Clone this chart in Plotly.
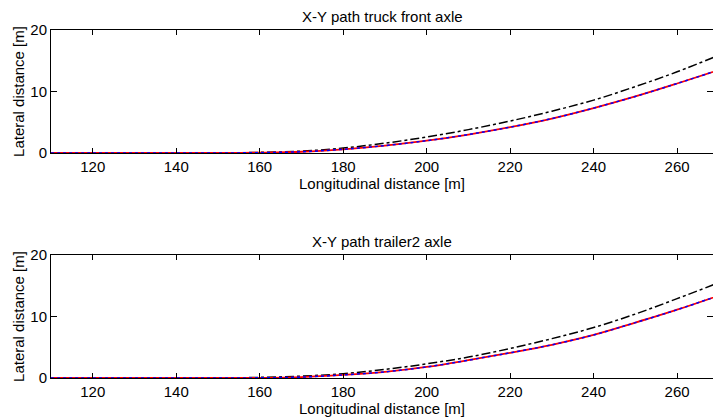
import plotly.graph_objects as go

x_vals = [110, 120, 130, 140, 150, 160, 170, 180, 190, 200, 210, 220, 230, 240, 250, 260, 270]

top_red = [0, 0, 0, 0, 0, 0.05, 0.2, 0.6, 1.2, 2.0, 3.0, 4.2, 5.6, 7.3, 9.2, 11.3, 13.5]
top_blue = [0, 0, 0, 0, 0, 0.05, 0.2, 0.6, 1.2, 2.0, 3.0, 4.2, 5.6, 7.3, 9.2, 11.3, 13.5]
top_black = [0, 0, 0, 0, 0, 0.1, 0.3, 0.8, 1.6, 2.6, 3.8, 5.2, 6.8, 8.6, 10.8, 13.2, 15.9]

bot_red = [0, 0, 0, 0, 0, 0.03, 0.15, 0.5, 1.0, 1.8, 2.9, 4.1, 5.4, 7.0, 9.0, 11.1, 13.4]
bot_blue = [0, 0, 0, 0, 0, 0.03, 0.15, 0.5, 1.0, 1.8, 2.9, 4.1, 5.4, 7.0, 9.0, 11.1, 13.4]
bot_black = [0, 0, 0, 0, 0, 0.1, 0.3, 0.7, 1.4, 2.3, 3.4, 4.8, 6.4, 8.2, 10.4, 12.9, 15.5]

titles = ["X-Y path truck front axle", "X-Y path trailer2 axle"]
x_ticks = [120, 140, 160, 180, 200, 220, 240, 260]
y_ticks = [0, 10, 20]

fig = go.Figure()

font = dict(family="Liberation Sans, Arial, sans-serif", size=15, color="black")

series = [(top_black, top_red, top_blue, "x", "y"), (bot_black, bot_red, bot_blue, "x2", "y2")]
for blk, red, blue, xa, ya in series:
    fig.add_trace(go.Scatter(x=x_vals, y=blk, mode="lines", xaxis=xa, yaxis=ya,
                             line=dict(color="black", width=1.5, dash="dashdot", shape="spline"), showlegend=False))
    fig.add_trace(go.Scatter(x=x_vals, y=red, mode="lines", xaxis=xa, yaxis=ya,
                             line=dict(color="red", width=1.8, shape="spline"), showlegend=False))
    fig.add_trace(go.Scatter(x=x_vals, y=blue, mode="lines", xaxis=xa, yaxis=ya,
                             line=dict(color="blue", width=1.5, dash="dot", shape="spline"), showlegend=False))

H = 418.0
dom_top = [1 - 153 / H, 1 - 30 / H]
dom_bot = [1 - 378 / H, 1 - 255 / H]

axis_common = dict(showgrid=False, zeroline=False, showline=True, linecolor="black", linewidth=1,
                   mirror="ticks", ticks="inside", tickcolor="black",
                   tickfont=font, automargin=False)

fig.update_layout(
    width=713, height=418,
    margin=dict(l=51, r=0, t=0, b=0),
    paper_bgcolor="white", plot_bgcolor="white",
    font=font,
    xaxis=dict(domain=[0, 1], anchor="y", range=[110, 268.6], tickvals=x_ticks, ticklen=5, **axis_common,
               title=dict(text="Longitudinal distance [m]", font=font, standoff=0)),
    yaxis=dict(domain=dom_top, anchor="x", range=[0, 20], tickvals=y_ticks, ticklen=6, **axis_common,
               title=dict(text="Lateral distance [m]", font=font, standoff=2)),
    xaxis2=dict(domain=[0, 1], anchor="y2", range=[110, 268.6], tickvals=x_ticks, ticklen=5, **axis_common,
                title=dict(text="Longitudinal distance [m]", font=font, standoff=0)),
    yaxis2=dict(domain=dom_bot, anchor="x2", range=[0, 20], tickvals=y_ticks, ticklen=6, **axis_common,
                title=dict(text="Lateral distance [m]", font=font, standoff=2)),
    annotations=[
        dict(text=titles[0], xref="paper", yref="paper", x=0.5, y=dom_top[1], yshift=3,
             xanchor="center", yanchor="bottom", showarrow=False, font=font),
        dict(text=titles[1], xref="paper", yref="paper", x=0.5, y=dom_bot[1], yshift=3,
             xanchor="center", yanchor="bottom", showarrow=False, font=font),
    ],
)

fig.write_html("out.html")
